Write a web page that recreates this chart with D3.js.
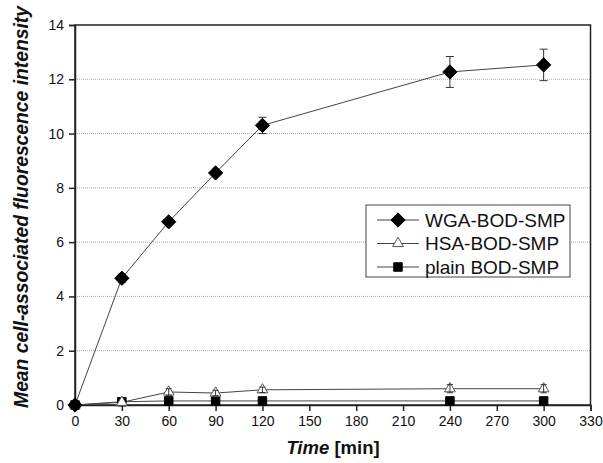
<!DOCTYPE html>
<html>
<head>
<meta charset="utf-8">
<script src="https://cdn.jsdelivr.net/npm/d3@7"></script>
<style>
  body { margin: 0; background: #fff; }
  text { font-family: "Liberation Sans", Arial, sans-serif; }
</style>
</head>
<body>
<script>
// data
const times = [0, 30, 60, 90, 120, 240, 300];
const wga = [0, 4.67, 6.75, 8.55, 10.3, 12.27, 12.53];
const wgaErr = [0, 0.15, 0, 0, 0.3, 0.57, 0.58];
const hsa = [0, 0.1, 0.48, 0.44, 0.56, 0.6, 0.6];
const hsaErr = [0, 0, 0.12, 0.1, 0.1, 0.15, 0.15];
const plain = [0, 0.12, 0.15, 0.15, 0.15, 0.15, 0.15];
const xTicks = d3.range(0, 331, 30);
const yTicks = d3.range(0, 15, 2);
const seriesNames = ["WGA-BOD-SMP", "HSA-BOD-SMP", "plain BOD-SMP"];

const width = 603, height = 463;
const margin = {top: 25, right: 12, bottom: 58, left: 75};

const svg = d3.select("body").append("svg")
    .attr("width", width)
    .attr("height", height);

const x = d3.scaleLinear().domain([0, 330]).range([margin.left, width - margin.right - 0.5]);
const y = d3.scaleLinear().domain([0, 14]).range([height - margin.bottom, margin.top]);

// grid
svg.append("g")
  .selectAll("line")
  .data(yTicks.filter(d => d > 0 && d < 14))
  .join("line")
    .attr("x1", x(0)).attr("x2", x(330))
    .attr("y1", d => y(d)).attr("y2", d => y(d))
    .attr("stroke", "#aaa")
    .attr("stroke-width", 1)
    .attr("stroke-dasharray", "1,1");

// frame
svg.append("rect")
    .attr("x", x(0)).attr("y", y(14))
    .attr("width", x(330) - x(0)).attr("height", y(0) - y(14))
    .attr("fill", "none")
    .attr("stroke", "#222")
    .attr("stroke-width", 1.5);

const xAxis = svg.append("g")
    .attr("transform", `translate(0,${y(0)})`)
    .call(d3.axisBottom(x).tickValues(xTicks).tickSize(6).tickPadding(5));
const yAxis = svg.append("g")
    .attr("transform", `translate(${x(0)},0)`)
    .call(d3.axisLeft(y).tickValues(yTicks).tickSize(6).tickPadding(5));
[xAxis, yAxis].forEach(a => {
  a.attr("font-size", 14).attr("font-family", "'Liberation Sans', Arial, sans-serif");
  a.select(".domain").attr("stroke", "#222").attr("stroke-width", 1.5);
  a.selectAll(".tick line").attr("stroke", "#222").attr("stroke-width", 1.5);
  a.selectAll("text").attr("fill", "#111");
});

// line generator
const line = d3.line().x((d, i) => x(times[i])).y(d => y(d));

function drawSeries(vals) {
  svg.append("path")
      .datum(vals)
      .attr("d", line)
      .attr("fill", "none")
      .attr("stroke", "#444")
      .attr("stroke-width", 1);
}
drawSeries(plain);
drawSeries(hsa);
drawSeries(wga);

function errorBars(vals, errs, cap) {
  const eb = svg.append("g").attr("stroke", "#333").attr("stroke-width", 1);
  vals.forEach((v, i) => {
    const e = errs[i];
    if (!e) return;
    const cx = x(times[i]);
    eb.append("line").attr("x1", cx).attr("x2", cx).attr("y1", y(v - e)).attr("y2", y(v + e));
    eb.append("line").attr("x1", cx - cap).attr("x2", cx + cap).attr("y1", y(v - e)).attr("y2", y(v - e));
    eb.append("line").attr("x1", cx - cap).attr("x2", cx + cap).attr("y1", y(v + e)).attr("y2", y(v + e));
  });
}

const diamond = d3.symbol().type(d3.symbolDiamond2).size(130);
const square = d3.symbol().type(d3.symbolSquare).size(72);
const triangle = d3.symbol().type(d3.symbolTriangle).size(50);

function markers(vals, sym, fill, stroke) {
  svg.append("g")
    .selectAll("path")
    .data(vals)
    .join("path")
      .attr("transform", (d, i) => `translate(${x(times[i])},${y(d)})`)
      .attr("d", sym)
      .attr("fill", fill)
      .attr("stroke", stroke)
      .attr("stroke-width", 1);
}
markers(plain, square, "#000", "#000");
markers(hsa, triangle, "#fff", "#555");
errorBars(hsa, hsaErr, 3);
errorBars(wga, wgaErr, 4);
markers(wga, diamond, "#000", "#000");

// legend
const lg = svg.append("g").attr("transform", "translate(366,205)");
lg.append("rect")
    .attr("width", 204).attr("height", 72)
    .attr("fill", "#fff")
    .attr("stroke", "#444")
    .attr("stroke-width", 1);
const syms = [[diamond, "#000", "#000"], [triangle, "#fff", "#555"], [square, "#000", "#000"]];
seriesNames.forEach((name, i) => {
  const yy = 15 + i * 23.5;
  lg.append("line").attr("x1", 11).attr("x2", 53).attr("y1", yy).attr("y2", yy)
    .attr("stroke", "#444").attr("stroke-width", 1);
  lg.append("path").attr("transform", `translate(32,${yy})`)
    .attr("d", syms[i][0]).attr("fill", syms[i][1]).attr("stroke", syms[i][2]);
  lg.append("text").attr("x", 59).attr("y", yy).attr("dy", "0.36em")
    .attr("font-size", 19).attr("fill", "#111").text(name);
});

// axis titles
svg.append("text")
    .attr("transform", `translate(28,207) rotate(-90)`)
    .attr("text-anchor", "middle")
    .attr("font-size", 19.3)
    .attr("font-weight", "bold")
    .attr("font-style", "italic")
    .attr("fill", "#111")
    .text("Mean cell-associated fluorescence intensity");

const xt = svg.append("text")
    .attr("x", 333)
    .attr("y", 454)
    .attr("text-anchor", "middle")
    .attr("font-size", 18.5)
    .attr("font-weight", "bold")
    .attr("fill", "#111");
xt.append("tspan").attr("font-style", "italic").text("Time");
xt.append("tspan").text(" [min]");
</script>
</body>
</html>
